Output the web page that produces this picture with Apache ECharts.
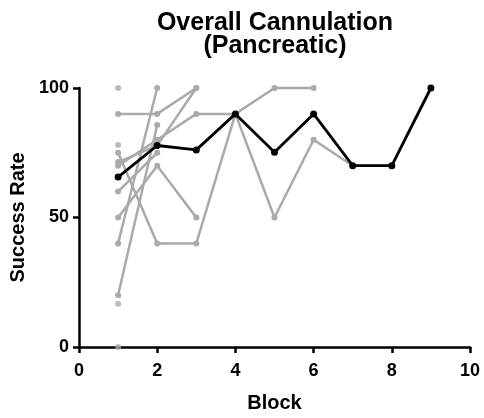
<!DOCTYPE html>
<html>
<head>
<meta charset="utf-8">
<script src="https://cdn.jsdelivr.net/npm/echarts@6/dist/echarts.min.js"></script>
<style>html,body{margin:0;padding:0;background:#fff;}#chart{width:484px;height:418px;}</style>
</head>
<body>
<div id="chart"></div>
<script>
const blocks = [1, 2, 3, 4, 5, 6, 7, 8, 9];
const meanRate = [65.6, 77.8, 76.1, 90, 75.2, 90, 70, 70, 100];
const trainee1 = [90, 90, 100];
const trainee2 = [40, 100];
const trainee3 = [20, 85.7];
const trainee4 = [75, 40, 40, 90, 50, 80, 70, 70, 100];
const trainee5 = [50, 70, 50];
const trainee6 = [60, 75];
const trainee7 = [70, 80, 90, 90, 100, 100];
const trainee8 = [71.4, 77.8, 100];
const block1Only = [100, 78, 16.7, 0];
const xTicks = [0, 2, 4, 6, 8, 10];
const yTicks = [0, 50, 100];

const trainees = [trainee1, trainee2, trainee3, trainee4, trainee5, trainee6, trainee7, trainee8];
const toPairs = arr => arr.map((v, i) => [blocks[i], v]);
const GRAY = '#aaaaaa';
const FONT = 'Liberation Sans, Arial, sans-serif';

const series = trainees.map(t => ({
  type: 'line', data: toPairs(t), symbol: 'circle', symbolSize: 6,
  lineStyle: { color: GRAY, width: 2.5 }, itemStyle: { color: GRAY },
  clip: false, z: 2, animation: false
}));
series.push({
  type: 'scatter', data: block1Only.map(v => [blocks[0], v]), symbolSize: 6,
  itemStyle: { color: GRAY }, clip: false, z: 2, animation: false
});
series.push({
  type: 'line', data: toPairs(meanRate), symbol: 'circle', symbolSize: 7,
  lineStyle: { color: '#000', width: 2.8 }, itemStyle: { color: '#000' },
  clip: false, z: 5, animation: false
});

const chart = echarts.init(document.getElementById('chart'), null, { renderer: 'canvas' });
chart.setOption({
  animation: false,
  title: [{
    text: 'Overall Cannulation',
    left: 275, top: 11, padding: 0, textAlign: 'center',
    textStyle: { fontFamily: FONT, fontWeight: 'bold', fontSize: 25, lineHeight: 25, color: '#000' }
  }, {
    text: '(Pancreatic)',
    left: 275, top: 34, padding: 0, textAlign: 'center',
    textStyle: { fontFamily: FONT, fontWeight: 'bold', fontSize: 25, lineHeight: 25, color: '#000' }
  }],
  grid: { left: 79, right: 14, top: 88, bottom: 70, containLabel: false },
  xAxis: {
    type: 'value', min: xTicks[0], max: xTicks[xTicks.length - 1], interval: 2,
    name: 'Block', nameLocation: 'middle', nameGap: 46,
    nameTextStyle: { fontFamily: FONT, fontWeight: 'bold', fontSize: 20, color: '#000' },
    axisLine: { lineStyle: { color: '#000', width: 2.5 } },
    axisTick: { show: true, length: 6, lineStyle: { color: '#000', width: 2.5 } },
    axisLabel: { margin: 15, fontFamily: FONT, fontWeight: 'bold', fontSize: 18, color: '#000' },
    splitLine: { show: false }
  },
  yAxis: {
    type: 'value', min: yTicks[0], max: yTicks[yTicks.length - 1], interval: 50,
    name: 'Success Rate', nameLocation: 'middle', nameGap: 47,
    nameTextStyle: { fontFamily: FONT, fontWeight: 'bold', fontSize: 20, color: '#000' },
    axisLine: { lineStyle: { color: '#000', width: 2.5 } },
    axisTick: { show: true, length: 6, lineStyle: { color: '#000', width: 2.5 } },
    axisLabel: { margin: 10, fontFamily: FONT, fontWeight: 'bold', fontSize: 18, color: '#000' },
    splitLine: { show: false }
  },
  series: series
});
</script>
</body>
</html>
